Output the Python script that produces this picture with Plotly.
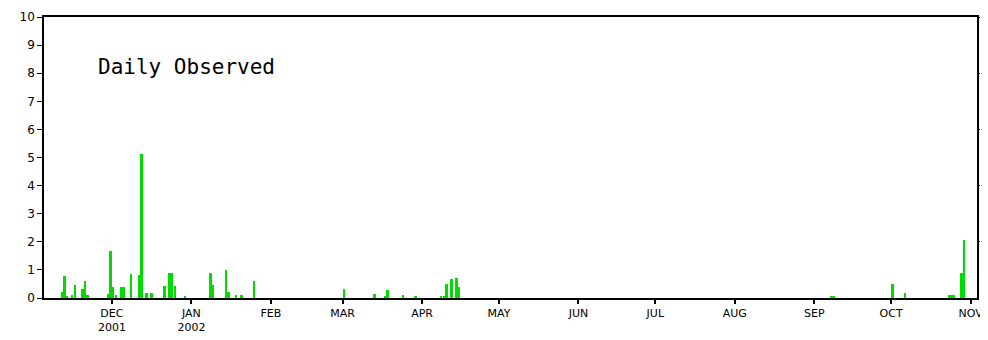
import plotly.graph_objects as go

# Daily observed values (date, value)
dates = [
    "2001-11-11", "2001-11-12", "2001-11-13", "2001-11-15", "2001-11-16",
    "2001-11-19", "2001-11-20", "2001-11-21", "2001-11-29", "2001-11-30",
    "2001-12-01", "2001-12-02", "2001-12-04", "2001-12-05", "2001-12-08",
    "2001-12-11", "2001-12-12", "2001-12-14", "2001-12-16", "2001-12-21",
    "2001-12-23", "2001-12-24", "2001-12-25", "2001-12-29",
    "2002-01-08", "2002-01-09", "2002-01-14", "2002-01-15", "2002-01-18",
    "2002-01-20", "2002-01-25",
    "2002-03-01", "2002-03-13", "2002-03-17", "2002-03-18", "2002-03-24",
    "2002-03-29", "2002-04-08", "2002-04-09", "2002-04-10", "2002-04-12",
    "2002-04-14", "2002-04-15",
    "2002-09-07", "2002-09-08", "2002-10-01", "2002-10-06", "2002-10-23",
    "2002-10-24", "2002-10-25", "2002-10-28", "2002-10-29",
]
values = [
    0.21, 0.78, 0.08, 0.10, 0.45,
    0.32, 0.62, 0.10, 0.16, 1.68,
    0.38, 0.10, 0.38, 0.38, 0.85,
    0.83, 5.12, 0.17, 0.17, 0.44,
    0.88, 0.88, 0.44, 0.05,
    0.90, 0.45, 1.00, 0.21, 0.10,
    0.10, 0.62,
    0.32, 0.15, 0.05, 0.27, 0.10,
    0.05, 0.05, 0.05, 0.50, 0.66,
    0.72, 0.38,
    0.06, 0.06, 0.50, 0.17, 0.10,
    0.10, 0.10, 0.90, 2.07,
]

month_ticks = ["2001-12-01", "2002-01-01", "2002-02-01", "2002-03-01", "2002-04-01",
               "2002-05-01", "2002-06-01", "2002-07-01", "2002-08-01", "2002-09-01",
               "2002-10-01", "2002-11-01"]
month_labels = ["DEC<br>2001", "JAN<br>2002", "FEB", "MAR", "APR", "MAY", "JUN",
                "JUL", "AUG", "SEP", "OCT", "NOV"]
y_ticks = list(range(0, 11))
right_ticks = [2, 4, 6, 8, 10]

x_centers = [d + " 12:00" for d in dates]

fig = go.Figure()
fig.add_trace(go.Bar(
    x=x_centers, y=values,
    width=[0.92 * 86400000] * len(values),
    marker=dict(color="#00dc00", line=dict(width=0)),
    showlegend=False,
))
# invisible trace for right axis
fig.add_trace(go.Scatter(x=[x_centers[0]], y=[0], yaxis="y2", mode="markers",
                         marker=dict(opacity=0), showlegend=False, hoverinfo="skip"))

font = dict(family="DejaVu Sans", size=12, color="black")

# page body has an 8px default margin, so the figure is 8px smaller and offset
fig.update_layout(
    template="none",
    width=980, height=332,
    margin=dict(l=36, r=11, t=9, b=42),
    plot_bgcolor="white", paper_bgcolor="white",
    bargap=0,
    font=font,
    xaxis=dict(
        type="date", automargin=False,
        range=["2001-11-04 12:00", "2002-11-03 12:00"],
        tickvals=month_ticks, ticktext=month_labels,
        ticks="outside", ticklen=4, tickwidth=1.5, tickcolor="black",
        showline=True, linecolor="black", linewidth=1.5, mirror=True,
        showgrid=False, zeroline=False,
        tickfont=dict(family="DejaVu Sans", size=11, color="black"),
    ),
    yaxis=dict(
        range=[0, 10], tickvals=y_ticks, automargin=False,
        ticks="outside", ticklen=5, tickwidth=1.2, tickcolor="black",
        showline=True, linecolor="black", linewidth=1.5,
        showgrid=False, zeroline=False,
        tickfont=dict(family="DejaVu Sans", size=12, color="black"),
    ),
    yaxis2=dict(
        range=[0, 10], overlaying="y", side="right", tickvals=right_ticks,
        automargin=False,
        ticks="outside", ticklen=5, tickwidth=1.2, tickcolor="black",
        showticklabels=False, showline=True, linecolor="black", linewidth=1.5,
        showgrid=False, zeroline=False,
    ),
    annotations=[
        dict(text="Daily Observed", xref="paper", yref="paper", x=0.056, y=0.822,
             xanchor="left", yanchor="middle", showarrow=False,
             font=dict(family="DejaVu Sans Mono", size=21, color="black")),
    ],
)

fig.write_html("out.html")
